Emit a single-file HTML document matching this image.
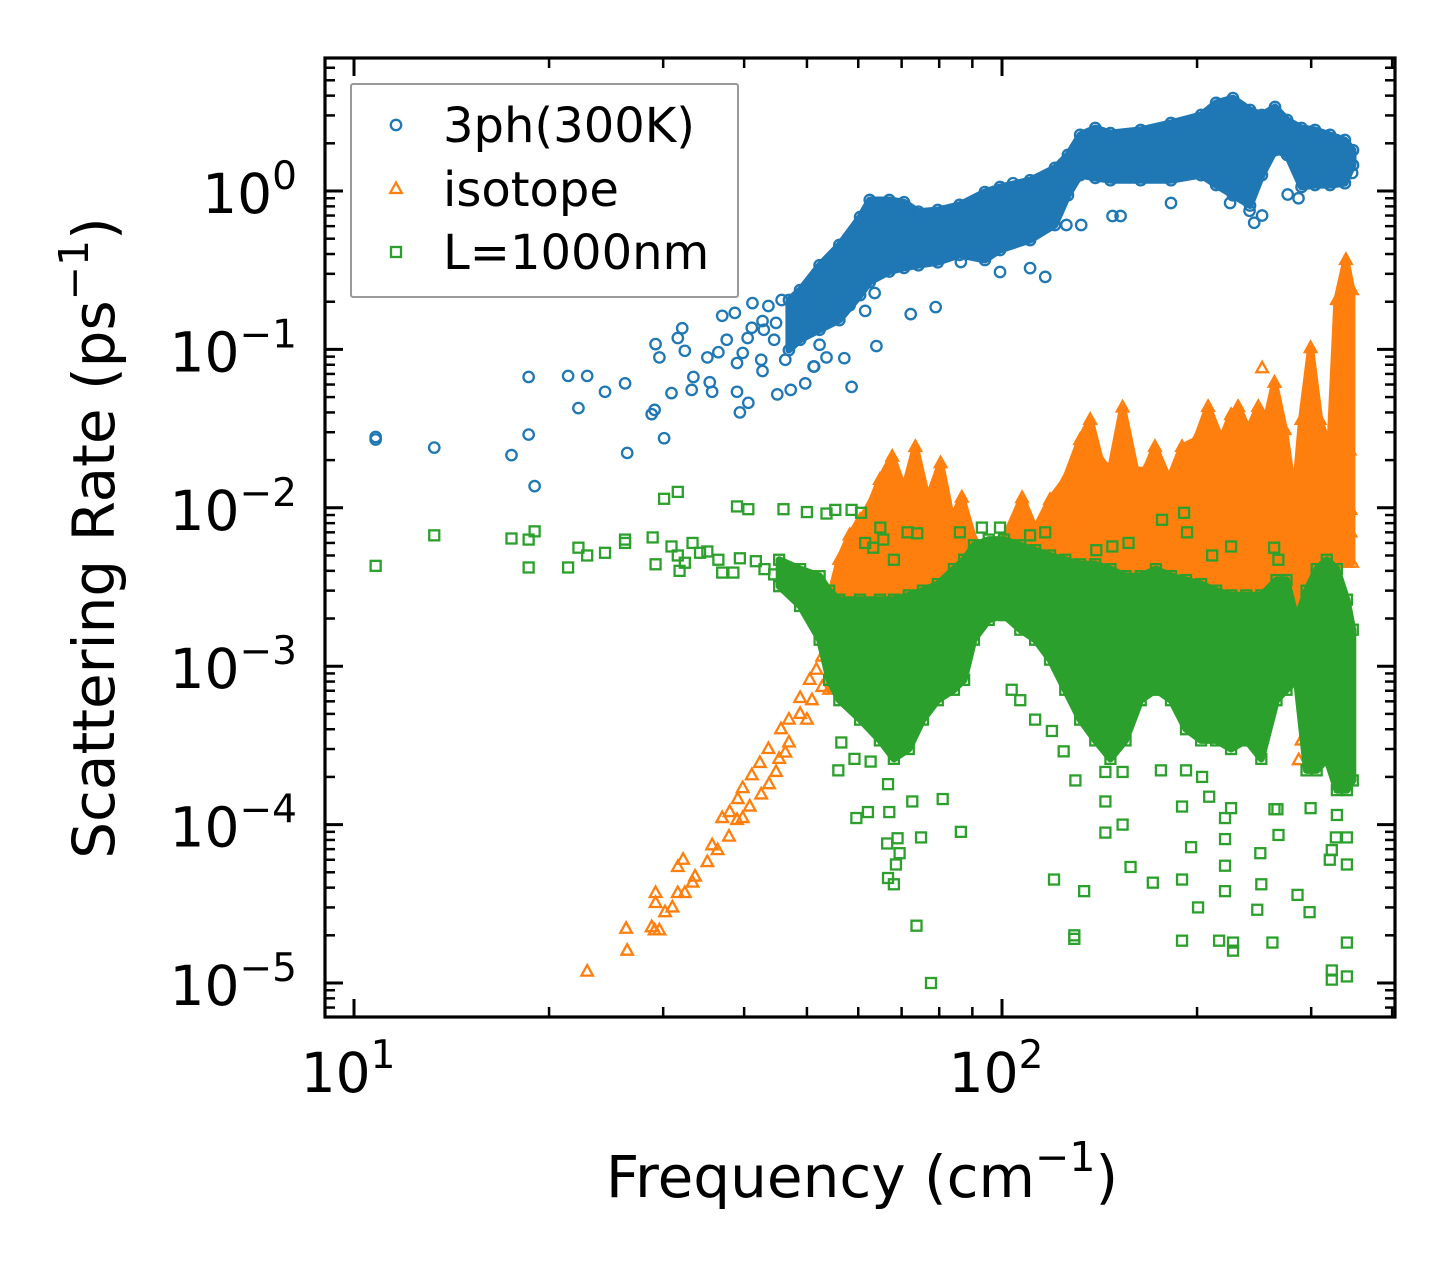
<!DOCTYPE html>
<html><head><meta charset="utf-8"><style>
html,body{margin:0;padding:0;background:#fff;}
svg{display:block;font-family:"DejaVu Sans","Liberation Sans",sans-serif;}
</style></head><body>
<svg id="chart" width="1455" height="1265" viewBox="0 0 1455 1265" xmlns="http://www.w3.org/2000/svg">
<rect x="0" y="0" width="1455" height="1265" fill="#fff"/>
<g id="plot"></g>
<g id="axes"></g>
</svg>
<script>
// ---------- data (frequency in cm^-1, rate in ps^-1) ----------
const blueFreq = [10.8,10.8,13.3,17.5,18.6,19.0,18.6,21.4,22.9,22.2,24.4,26.2,28.8,29.1,30.1,26.4,29.2,29.6,31.6,32.1,32.4,30.9,33.2,33.4,35.4,35.7,39.0,39.4,40.6,35.1,36.5,37.6,37.0,38.7,39.8,39.0,40.5,41.2,41.1,42.7,43.6,42.5,42.7,45.0,47.2,49.7,51.2,45.7,44.8,48.0,46.3,52.3,53.6,116.6,110.5,99.3,86.4,79.0,72.3,64.0,58.6,61.5,63.6,57.1,51.3,125.7,132.5,148.1,152.4,245,224.9,286.8,182.3,104,48.8,50.5,54.1,58.2,47.6,44.5,42.9,252,241,276,347];
const blueRate = [0.028,0.027,0.024,0.0215,0.029,0.0137,0.067,0.068,0.068,0.0426,0.054,0.061,0.039,0.0415,0.0275,0.0222,0.108,0.089,0.118,0.136,0.098,0.053,0.0555,0.067,0.062,0.054,0.054,0.040,0.046,0.089,0.096,0.115,0.163,0.17,0.095,0.082,0.118,0.196,0.137,0.151,0.188,0.086,0.073,0.052,0.0555,0.061,0.078,0.205,0.147,0.115,0.086,0.107,0.089,0.287,0.326,0.308,0.356,0.185,0.167,0.105,0.058,0.175,0.227,0.088,0.078,0.61,0.61,0.695,0.695,0.63,0.84,0.90,0.84,1.12,0.177,0.205,0.158,0.19,0.143,0.115,0.133,0.70,0.75,0.95,1.3];
const blueBandFreq = [46.9,48.8,52.3,56.1,60.4,62.5,67.0,70.6,74.3,79.6,86.0,94.1,99.3,110.5,120.7,126.4,132,139.3,147,163.7,182.3,202.9,214,227.2,241.4,251.8,263.8,275.4,289.9,304.1,320.8,338.2,348.1];
const blueBandHi = [0.205,0.237,0.34,0.456,0.685,0.877,0.877,0.85,0.74,0.759,0.817,0.985,1.06,1.17,1.4,1.69,2.26,2.5,2.32,2.43,2.69,3.02,3.6,3.86,3.25,3.02,3.39,2.81,2.5,2.43,2.26,2.1,1.81];
const blueBandLo = [0.099,0.115,0.133,0.153,0.22,0.266,0.31,0.327,0.34,0.355,0.395,0.367,0.424,0.49,0.61,0.94,1.26,1.21,1.17,1.17,1.17,1.26,1.09,0.94,0.81,1.26,1.81,1.69,1.06,1.09,1.09,1.12,1.46];

const isoFreq = [22.9,26.4,26.3,28.8,29.1,29.6,29.2,29.2,30.2,31.0,31.6,32.4,31.6,32.2,33.3,33.6,35.1,35.7,36.4,37.9,37.0,38.0,39.0,39.8,39.1,39.8,41.1,40.8,42.5,43.7,42.3,43.6,44.8,45.3,46.3,46.9,45.6,46.9,48.8,50.0,48.8,50.5,51.7,52.8,53.6,50.9,52.8,252,345,345,344,323,133,167,242,206,222,339,287,290];
const isoRate = [1.18e-5,1.6e-5,2.2e-5,2.25e-5,2.15e-5,2.15e-5,3.7e-5,3.2e-5,2.8e-5,3.0e-5,3.7e-5,3.7e-5,5.4e-5,6.0e-5,4.3e-5,4.7e-5,5.8e-5,7.4e-5,6.9e-5,8.4e-5,1.1e-4,1.2e-4,1.07e-4,1.1e-4,1.45e-4,1.7e-4,2.05e-4,1.3e-4,1.55e-4,1.8e-4,2.45e-4,3.0e-4,2.15e-4,2.6e-4,2.85e-4,3.3e-4,4.0e-4,4.6e-4,5.0e-4,4.6e-4,6.3e-4,8.2e-4,9.5e-4,1.15e-3,1.47e-3,6.1e-4,7.4e-4,0.076,0.0097,0.0070,0.023,0.0093,0.0078,0.006,0.0064,0.0064,0.0063,0.028,2.55e-4,3.4e-4];
const isoBandFreq = [54.1,56.1,58.2,60.4,62.5,64.8,67.7,70.6,73.5,76.8,80.4,83.7,86.7,90.5,95.4,100.7,107.4,112.5,118.6,125.2,132,136.8,141.8,147,153.5,160.8,166.6,172.2,181,189.6,199.3,208,217.8,225.7,231.4,239.9,248.6,255.8,263.3,272.9,282.7,289.9,299.4,309.2,320.5,328.7,339.4,346.7];
const isoBandHi = [0.00263,0.0047,0.0067,0.0084,0.0103,0.015,0.021,0.013,0.0242,0.0112,0.0191,0.0084,0.0116,0.0063,0.0047,0.0063,0.0115,0.0073,0.0112,0.015,0.0268,0.0359,0.0201,0.0173,0.043,0.0173,0.0173,0.0242,0.015,0.0242,0.0268,0.0433,0.0268,0.0385,0.0433,0.031,0.0433,0.0359,0.0616,0.031,0.0112,0.0359,0.102,0.0359,0.0232,0.205,0.367,0.237];
const isoBandLo = [7.1e-4,9.5e-4,0.00127,0.00147,0.00196,0.00196,0.00196,0.00196,0.00196,0.00227,0.00196,0.00196,0.00227,0.00263,0.00263,0.00263,0.0028,0.0028,0.0028,0.003,0.003,0.003,0.003,0.003,0.003,0.003,0.003,0.003,0.003,0.003,0.003,0.003,0.0028,0.0028,0.0028,0.0028,0.0028,0.0028,0.003,0.003,0.00196,0.00196,0.003,0.0045,0.0045,0.0045,0.0045,0.0045];

const bndFreq = [10.8,13.3,17.5,18.6,19.0,18.6,21.4,22.2,22.9,24.4,26.2,26.2,28.9,29.2,30.1,31.6,30.9,31.6,31.8,32.4,33.3,35.1,37.0,38.5,39.0,40.6,46.0,50.0,53.6,55.3,58.6,60.6,39.4,41.7,43.0,44.5,46.9,49.7,34.2,36.5,
176.6,191,193,225.7,263,267,211,156.8,148,139.8,110.5,116.6,99.3,93.1,86.1,74.0,71.5,64.9,61.5,65.6,68.1,63.3,
55.9,56.5,59.2,62.7,59.6,62.1,67.0,69.0,66.5,69.5,68.6,66.7,68.1,75.0,86.4,81.0,73.8,77.7,72.7,66.7,119.4,120.3,133.9,129.3,129.3,144.4,144.4,153.5,157.9,170.9,189.6,200.7,189.6,195.8,189.6,208.8,220.9,220.9,220.9,220.9,216.3,227.3,227.3,250.4,247.7,251.3,261.4,267.1,266.1,285.8,298.3,299.4,322.8,340.6,340.6,340.6,327.5,340.6,328.7,263.3,225.7,175.9,153.5,144.4,192.3,203.6,124.5,129.8,106.7,112.5,103.5,320.5,322.8,322.8];
const bndRate = [0.0043,0.0067,0.0064,0.0042,0.0071,0.0063,0.0042,0.0056,0.005,0.0052,0.0063,0.006,0.0065,0.0044,0.0114,0.0126,0.0057,0.005,0.004,0.0045,0.006,0.0053,0.0039,0.0039,0.0102,0.0098,0.0098,0.0094,0.0092,0.0097,0.0097,0.0093,0.0048,0.0046,0.0041,0.0038,0.0034,0.003,0.0052,0.0047,
0.0084,0.0093,0.007,0.0057,0.0056,0.0047,0.005,0.006,0.0057,0.0054,0.0067,0.007,0.0075,0.0075,0.007,0.0069,0.007,0.0075,0.006,0.0063,0.0047,0.0056,
2.2e-4,3.3e-4,2.6e-4,2.5e-4,1.1e-4,1.2e-4,1.2e-4,8.2e-5,7.6e-5,6.6e-5,5.6e-5,4.6e-5,4.2e-5,8.3e-5,9.0e-5,1.45e-4,2.3e-5,1.0e-5,1.4e-4,1.8e-4,3.9e-4,4.5e-5,3.8e-5,1.9e-5,2.0e-5,1.4e-4,8.9e-5,1.0e-4,5.4e-5,4.3e-5,4.5e-5,3.0e-5,1.85e-5,7.2e-5,1.3e-4,1.5e-4,1.1e-4,8.1e-5,5.5e-5,3.8e-5,1.85e-5,1.8e-5,1.6e-5,6.6e-5,2.9e-5,4.2e-5,1.8e-5,8.6e-5,1.25e-4,3.6e-5,2.8e-5,1.27e-4,1.2e-5,1.1e-5,1.8e-5,5.6e-5,8.3e-5,8.3e-5,1.15e-4,1.25e-4,1.27e-4,2.2e-4,2.15e-4,2.15e-4,2.2e-4,2.0e-4,2.9e-4,1.9e-4,6.1e-4,4.6e-4,7.1e-4,6.0e-5,6.9e-5,1.05e-5];
const bndBandFreq = [45.3,48.8,52.3,54.1,56.1,60.4,64.8,68.1,71.8,75.5,79.6,84.3,87.4,90.5,95.4,100.7,106.7,112.5,118.6,125.2,132,139.3,147,155.1,163.7,172.8,182.3,192.3,202.9,214,225.7,238.2,251.3,265.2,274.8,284.8,295.1,305.9,317.1,328.7,340.6,347.8];
const bndBandHi = [0.0047,0.0041,0.0037,0.0030,0.00263,0.00263,0.00263,0.00263,0.0028,0.0030,0.0033,0.0041,0.0047,0.0058,0.0063,0.0063,0.0058,0.0054,0.005,0.0047,0.0044,0.0044,0.0041,0.0037,0.0037,0.0041,0.0037,0.0035,0.0033,0.0030,0.0028,0.0028,0.0028,0.0035,0.0035,0.00196,0.0030,0.0041,0.0047,0.0041,0.00263,0.0017];
const bndBandLo = [0.0032,0.0024,0.00147,8.2e-4,6.1e-4,4.6e-4,3.4e-4,2.6e-4,3.0e-4,4.6e-4,6.1e-4,7.1e-4,8.2e-4,0.00147,0.00196,0.0021,0.0017,0.00147,0.0011,7.1e-4,4.6e-4,3.4e-4,2.6e-4,3.4e-4,6.1e-4,7.1e-4,6.1e-4,4.0e-4,3.4e-4,3.4e-4,3.0e-4,3.4e-4,2.6e-4,6.1e-4,7.1e-4,8.2e-4,2.2e-4,2.2e-4,2.6e-4,1.65e-4,1.65e-4,1.9e-4];

const xTickExps = [1,2];
const yTickExps = [0,-1,-2,-3,-4,-5];
const legendLabels = ["3ph(300K)","isotope","L=1000nm"];

// ---------- axis functions ----------
const X0=325, X1=1395, Y0=58, Y1=1017;
const xDec0=354, xPerDec=648, yDec0=191, yPerDec=158.4;
function xs(f){ return xDec0 + (Math.log10(f)-1)*xPerDec; }
function ys(r){ return yDec0 - Math.log10(r)*yPerDec; }

const NS="http://www.w3.org/2000/svg";
function mk(tag, attrs, parent){ const e=document.createElementNS(NS,tag); for(const k in attrs) e.setAttribute(k,attrs[k]); parent.appendChild(e); return e; }

const plot=document.getElementById('plot');
const axes=document.getElementById('axes');
const clip=mk('clipPath',{id:'clipArea'},plot);
mk('rect',{x:X0,y:Y0,width:X1-X0,height:Y1-Y0},clip);
plot.setAttribute('clip-path','url(#clipArea)');

const C_BLUE='#1f77b4', C_ORANGE='#ff7f0e', C_GREEN='#2ca02c';

function marker(type, cx, cy, color, parent){
  let el;
  if(type==='circle'){ el=mk('circle',{cx:cx,cy:cy,r:5.2,fill:'none',stroke:color,'stroke-width':2.3},parent); }
  else if(type==='tri'){ el=mk('path',{d:`M${cx},${cy-6.5} L${cx+5.8},${cy+4} L${cx-5.8},${cy+4} Z`,fill:'none',stroke:color,'stroke-width':2.3},parent); }
  else { el=mk('rect',{x:cx-5,y:cy-5,width:10,height:10,fill:'none',stroke:color,'stroke-width':2.3},parent); }
  return el;
}

function drawSeries(name, type, color, freq, rate, bF, bHi, bLo){
  const g=mk('g',{},plot);
  
  
  let d='';
  for(let i=0;i<bF.length;i++) d+=(i?'L':'M')+xs(bF[i]).toFixed(1)+','+ys(bHi[i]).toFixed(1);
  for(let i=bF.length-1;i>=0;i--) d+='L'+xs(bF[i]).toFixed(1)+','+ys(bLo[i]).toFixed(1);
  d+='Z';
  const area=mk('path',{d:d,fill:color,stroke:color,'stroke-width':7,'stroke-linejoin':'round'},g);
  
  
  for(let i=0;i<bF.length;i++){
    const t=marker(type, xs(bF[i]), ys(bHi[i]), color, g);
    
    
    const b=marker(type, xs(bF[i]), ys(bLo[i]), color, g);
    
    
  }
  for(let i=0;i<freq.length;i++){
    const m=marker(type, xs(freq[i]), ys(rate[i]), color, g);
    
    
  }
}
drawSeries('3ph','circle',C_BLUE,blueFreq,blueRate,blueBandFreq,blueBandHi,blueBandLo);
drawSeries('isotope','tri',C_ORANGE,isoFreq,isoRate,isoBandFreq,isoBandHi,isoBandLo);
drawSeries('boundary','square',C_GREEN,bndFreq,bndRate,bndBandFreq,bndBandHi,bndBandLo);

// ---------- ticks ----------
function tick(x1,y1,x2,y2,w){ const t=mk('line',{x1:x1,y1:y1,x2:x2,y2:y2,stroke:'#000','stroke-width':w},axes);
    }
for(let e=0;e<=3;e++){
  for(let m=1;m<=9;m++){
    const v=m*Math.pow(10,e); const x=xs(v);
    if(x<X0+1||x>X1-1) continue;
    const L=(m===1)?18:10, w=(m===1)?3:2.5;
    tick(x,Y1,x,Y1-L,w); tick(x,Y0,x,Y0+L,w);
  }
}
for(let e=-6;e<=1;e++){
  for(let m=1;m<=9;m++){
    const v=m*Math.pow(10,e); const y=ys(v);
    if(y<Y0+1||y>Y1-1) continue;
    const L=(m===1)?18:10, w=(m===1)?3:2.5;
    tick(X0,y,X0+L,y,w); tick(X1,y,X1-L,y,w);
  }
}
const frame=mk('rect',{x:X0,y:Y0,width:X1-X0,height:Y1-Y0,fill:'none',stroke:'#000','stroke-width':3.2},axes);



function powLabel(x,y,exp,anchor,name){
  const t=mk('text',{x:x,y:y,'font-size':55,'text-anchor':anchor,fill:'#000'},axes);
  
  
  const a=document.createElementNS(NS,'tspan'); a.textContent='10'; t.appendChild(a);
  const b=document.createElementNS(NS,'tspan'); b.setAttribute('font-size','39'); b.setAttribute('dy','-24');
  b.textContent=(exp<0?'\u2212'+(-exp):String(exp)); t.appendChild(b);
}
xTickExps.forEach(e=>powLabel(xs(Math.pow(10,e))-6, 1092, e, 'middle', 'x-tick-label'));
yTickExps.forEach(e=>powLabel(297, ys(Math.pow(10,e))+22, e, 'end', 'y-tick-label'));

const xt=mk('text',{x:862,y:1197,'font-size':58,'text-anchor':'middle',fill:'#000'},axes);
 
xt.innerHTML='Frequency (cm<tspan font-size="41" dy="-26">\u22121</tspan><tspan dy="26">)</tspan>';
const yt=mk('text',{x:0,y:0,'font-size':58,'text-anchor':'middle',fill:'#000',transform:'translate(114,538) rotate(-90)'},axes);
 
yt.innerHTML='Scattering Rate (ps<tspan font-size="41" dy="-26">\u22121</tspan><tspan dy="26">)</tspan>';

const lg=mk('g',{},axes);
 
mk('rect',{x:351,y:84,width:387,height:213,fill:'#fff','fill-opacity':0.8,stroke:'#999','stroke-width':2,rx:2},lg);
const legTypes=['circle','tri','square'], legCols=[C_BLUE,C_ORANGE,C_GREEN], legY=[125,189,252];
for(let i=0;i<3;i++){
  const m=marker(legTypes[i],396,legY[i],legCols[i],lg);
  
  
  const t=mk('text',{x:443,y:legY[i]+17,'font-size':48,fill:'#000'},lg);
  t.textContent=legendLabels[i];
  
  
}
</script>
</body></html>
